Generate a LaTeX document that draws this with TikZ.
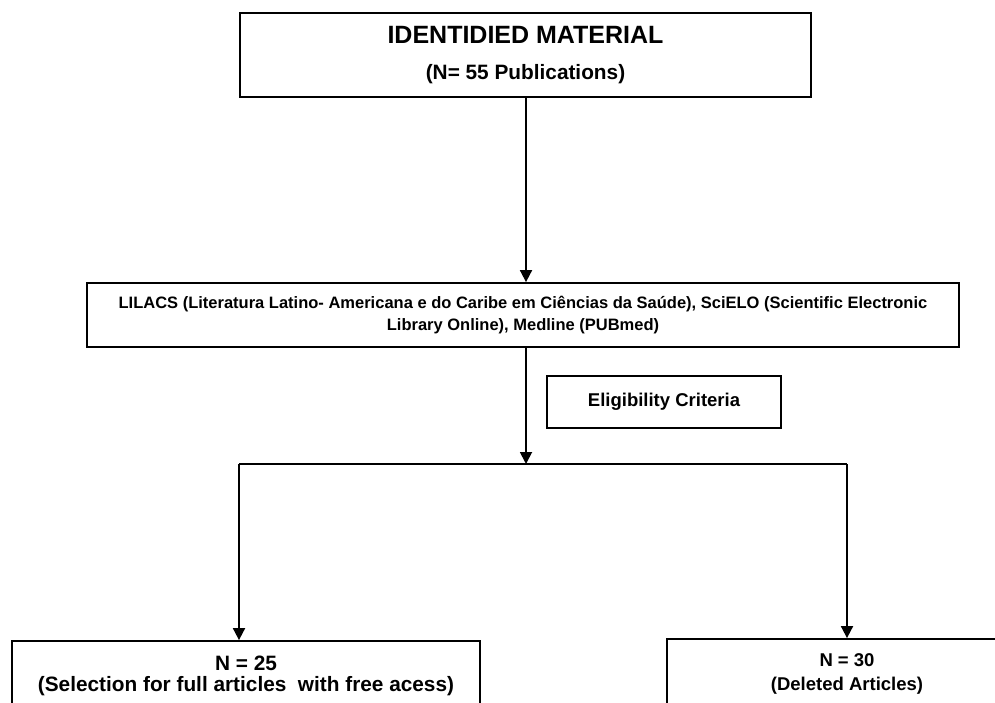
\documentclass[tikz,border=0pt]{standalone}
\usepackage{fontspec}
\setmainfont{Liberation Sans}
\usetikzlibrary{arrows.meta}

\begin{document}
\begin{tikzpicture}[x=1pt,y=-1pt,
  box/.style={draw, line width=1.8pt, align=center, inner sep=0pt},
  arr/.style={-{Triangle[length=12pt,width=12pt]}, line width=1.8pt}]
\useasboundingbox (0,0) rectangle (995,702);
\clip (0,0) rectangle (995,702);
\node[box, minimum width=571pt, minimum height=84pt,
  font=\bfseries\fontsize{20.8}{36}\selectfont] (ident) at (525.5,55)
  {{\fontsize{25}{36}\selectfont IDENTIDIED MATERIAL}\\(N= 55 Publications)};
\node[box, minimum width=872pt, minimum height=64pt,
  font=\bfseries\fontsize{16.5}{22}\selectfont] (lilacs) at (523,315)
  {LILACS (Literatura Latino- Americana e do Caribe em Ciências da Saúde), SciELO (Scientific Electronic\\
   Library Online), Medline (PUBmed)};
\node[box, minimum width=234pt, minimum height=52pt,
  font=\bfseries\fontsize{18.5}{22}\selectfont] (elig) at (664,402) {Eligibility Criteria};
\node[box, minimum width=468pt, minimum height=70pt,
  font=\bfseries\fontsize{20.8}{20.5}\selectfont] (sel) at (246,676)
  {N = 25\\(Selection for full articles\ \ with free acess)};
\node[box, minimum width=360pt, minimum height=70pt,
  font=\bfseries\fontsize{18.5}{24}\selectfont] (del) at (847,674)
  {N = 30\\(Deleted Articles)};
% split point under the criteria
\coordinate (split) at (526,464);
\coordinate (splitL) at (239,464);
\coordinate (splitR) at (847,464);
\draw[arr] (split |- ident.south) -- (split |- lilacs.north);
\draw[arr] (split |- lilacs.south) -- (split);
\draw[line width=1.8pt] (splitL) -- (splitR);
\draw[arr] (splitL) -- (splitL |- sel.north);
\draw[arr] (splitR) -- (splitR |- del.north);
\end{tikzpicture}
\end{document}
